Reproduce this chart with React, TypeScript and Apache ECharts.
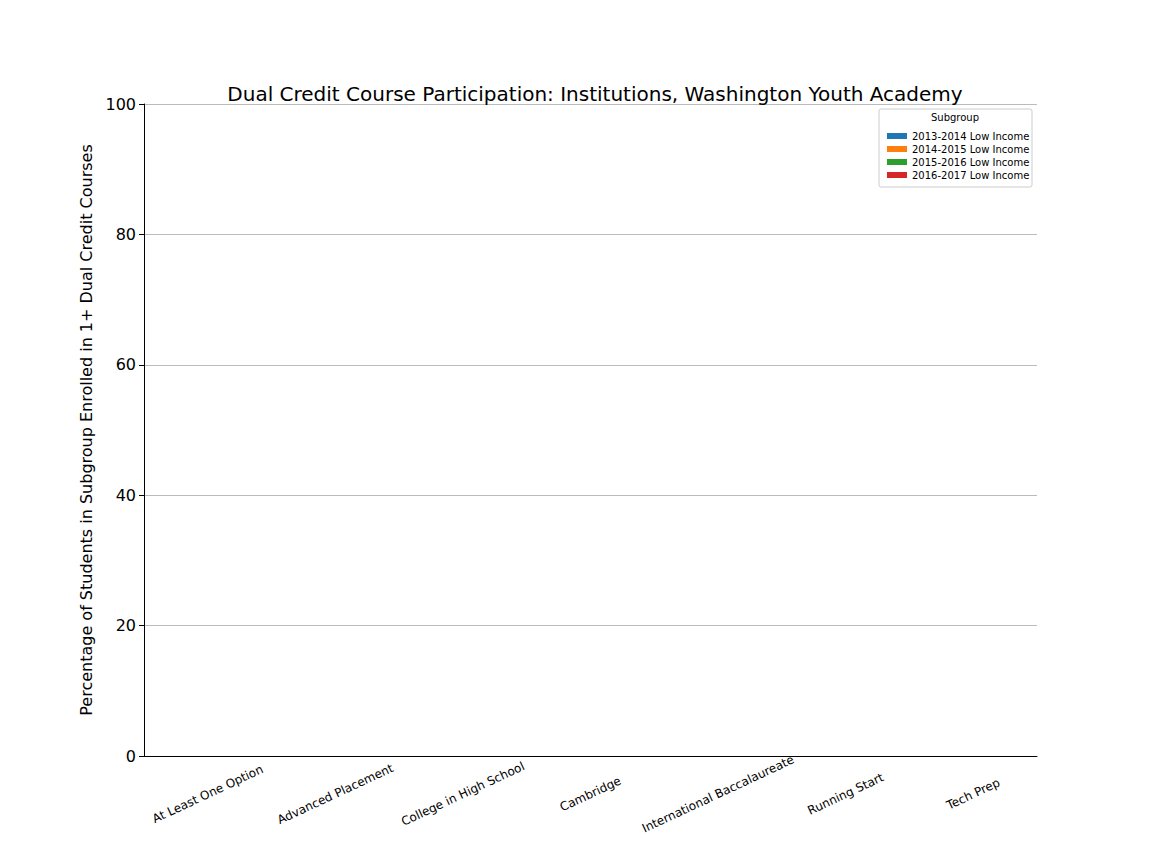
import React, { useEffect, useRef } from 'react';
import * as echarts from 'echarts';

const categories = [
  'At Least One Option',
  'Advanced Placement',
  'College in High School',
  'Cambridge',
  'International Baccalaureate',
  'Running Start',
  'Tech Prep',
];
const seriesNames = [
  '2013-2014 Low Income',
  '2014-2015 Low Income',
  '2015-2016 Low Income',
  '2016-2017 Low Income',
];
const colors = ['#1f77b4', '#ff7f0e', '#2ca02c', '#d62728'];
const values2013 = [0, 0, 0, 0, 0, 0, 0];
const values2014 = [0, 0, 0, 0, 0, 0, 0];
const values2015 = [0, 0, 0, 0, 0, 0, 0];
const values2016 = [0, 0, 0, 0, 0, 0, 0];
const yTicks = [0, 20, 40, 60, 80, 100];

const App: React.FC = () => {
  const chartRef = useRef<HTMLDivElement>(null);

  useEffect(() => {
    if (!chartRef.current) return;
    const chart = echarts.init(chartRef.current, undefined, { renderer: 'svg' });
    const all = [values2013, values2014, values2015, values2016];
    const font = 'DejaVu Sans';

    const option: echarts.EChartsOption = {
      animation: false,
      textStyle: { fontFamily: font },
      title: {
        text: 'Dual Credit Course Participation: Institutions, Washington Youth Academy',
        left: 590,
        top: 79,
        textAlign: 'center',
        textStyle: { fontSize: 20, fontWeight: 'normal', color: '#000', fontFamily: font },
      },
      grid: { left: 144, right: 115, top: 104, bottom: 108 },
      xAxis: {
        type: 'category',
        data: categories,
        axisLine: { lineStyle: { color: '#000' } },
        axisTick: { alignWithLabel: true, lineStyle: { color: '#000' } },
        axisLabel: {
          rotate: 25,
          fontSize: 12,
          color: '#000',
          interval: 0,
          margin: 38,
          align: 'center',
          verticalAlign: 'middle',
        },
      },
      yAxis: {
        type: 'value',
        min: yTicks[0],
        max: yTicks[yTicks.length - 1],
        interval: 20,
        name: 'Percentage of Students in Subgroup Enrolled in 1+ Dual Credit Courses',
        nameLocation: 'middle',
        nameGap: 43,
        nameTextStyle: { fontSize: 16, color: '#000' },
        axisLine: { show: true, lineStyle: { color: '#000' } },
        axisTick: { show: true, lineStyle: { color: '#000' } },
        axisLabel: { fontSize: 16, color: '#000' },
        splitLine: { lineStyle: { color: '#bbb' } },
      },
      legend: {
        orient: 'vertical',
        left: 882,
        top: 126,
        itemWidth: 20,
        itemHeight: 6,
        itemGap: 3,
        icon: 'rect',
        textStyle: { fontSize: 10, color: '#000' },
        data: seriesNames,
      },
      graphic: [
        {
          type: 'rect',
          shape: { x: 879, y: 109, width: 153, height: 78, r: 2 },
          style: { fill: '#fff', stroke: '#ccc', lineWidth: 1 },
          z: -1,
        },
        {
          type: 'text',
          x: 955,
          y: 112,
          style: { text: 'Subgroup', fontSize: 10, fill: '#000', textAlign: 'center', fontFamily: font },
        },
      ],
      series: seriesNames.map((name, i) => ({
        name,
        type: 'bar' as const,
        data: all[i],
        itemStyle: { color: colors[i] },
        barGap: '0%',
        barCategoryGap: '20%',
      })),
    };
    chart.setOption(option);
    return () => chart.dispose();
  }, []);

  return (
    <div
      ref={chartRef}
      style={{ position: 'absolute', left: 0, top: 0, width: 1152, height: 864, background: '#fff' }}
    />
  );
};

export default App;
